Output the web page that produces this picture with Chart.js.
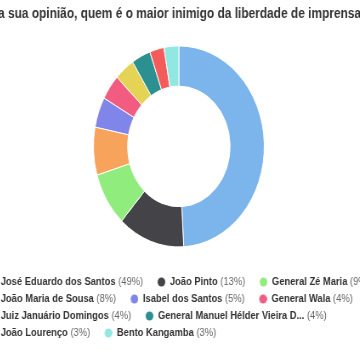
<!DOCTYPE html>
<html>
<head>
<meta charset="utf-8">
<script src="https://cdn.jsdelivr.net/npm/chart.js@4/dist/chart.umd.min.js"></script>
<style>
    html, body { margin: 0; padding: 0; background: #fff; overflow: hidden; width: 360px; height: 351px; }
    /* o gráfico original está comprimido na horizontal */
    #caixa { position: absolute; left: -25.8px; top: 0; width: 482px; height: 351px; transform: scaleX(0.85); transform-origin: 0 0; }
</style>
</head>
<body>
<div id="caixa"><canvas id="grafico" width="482" height="351"></canvas></div>
<script>
const titulo = 'Na sua opinião, quem é o maior inimigo da liberdade de imprensa?';
const nomes = [
    'José Eduardo dos Santos',
    'João Pinto',
    'General Zé Maria',
    'João Maria de Sousa',
    'Isabel dos Santos',
    'General Wala',
    'Juiz Januário Domingos',
    'General Manuel Hélder Vieira D...',
    'João Lourenço',
    'Bento Kangamba'
];
const percentagens = [49.1, 12.6, 8.7, 7.7, 4.9, 4.1, 3.8, 3.6, 2.7, 2.8];
const cores = ['#7cb5ec', '#434348', '#90ed7d', '#f7a35c', '#8085e9', '#f15c80', '#e4d354', '#2b908f', '#f45b5b', '#91e8e1'];

const fonte = "'Liberation Sans', Arial, sans-serif";

// marcador redondo da legenda, deslocado para a direita da caixa
function criarPonto(cor) {
    const c = document.createElement('canvas');
    c.width = 20;
    c.height = 10;
    const g = c.getContext('2d');
    g.fillStyle = cor;
    g.beginPath();
    g.arc(15.5, 5, 4.5, 0, Math.PI * 2);
    g.fill();
    return c;
}

function textoLegenda(i) {
    return '(' + Math.round(percentagens[i]) + '%)';
}

// nome em negrito escuro e percentagem em cinzento normal
const legendaDuasCores = {
    id: 'legendaDuasCores',
    afterDraw(chart) {
        const legenda = chart.legend;
        const g = chart.ctx;
        g.save();
        g.textBaseline = 'middle';
        g.textAlign = 'left';
        legenda.legendItems.forEach((item, i) => {
            const caixa = legenda.legendHitBoxes[i];
            const x = caixa.left + 20 + 5.5;
            const y = caixa.top + caixa.height / 2;
            g.font = 'bold 11px ' + fonte;
            g.fillStyle = '#333333';
            g.fillText(nomes[i], x, y);
            const w = g.measureText(nomes[i] + ' ').width;
            g.font = '11px ' + fonte;
            g.fillStyle = '#666666';
            g.fillText(textoLegenda(i), x + w, y);
        });
        g.restore();
    }
};

const ctx = document.getElementById('grafico').getContext('2d');
new Chart(ctx, {
    type: 'doughnut',
    data: {
        labels: nomes,
        datasets: [{
            data: percentagens,
            backgroundColor: cores,
            borderColor: '#ffffff',
            borderWidth: 1,
            radius: 100.5,
            cutout: '60%'
        }]
    },
    options: {
        responsive: false,
        animation: false,
        events: [],
        layout: { padding: { top: 0, bottom: 2.5, left: 0, right: 0 } },
        plugins: {
            title: {
                display: true,
                text: titulo,
                color: '#333333',
                font: { family: fonte, size: 14, weight: 'bold' },
                padding: { top: 5.6, bottom: 0 }
            },
            legend: {
                position: 'bottom',
                align: 'start',
                labels: {
                    usePointStyle: true,
                    pointStyleWidth: 20,
                    padding: 6,
                    font: { family: fonte, size: 11, weight: 'bold' },
                    generateLabels: function(chart) {
                        return nomes.map((nome, i) => ({
                            text: nome + ' ' + textoLegenda(i),
                            fillStyle: cores[i],
                            strokeStyle: cores[i],
                            lineWidth: 0,
                            fontColor: 'rgba(0,0,0,0)',
                            pointStyle: criarPonto(cores[i]),
                            hidden: false,
                            index: i
                        }));
                    }
                }
            },
            tooltip: { enabled: false }
        }
    },
    plugins: [legendaDuasCores]
});
</script>
</body>
</html>
